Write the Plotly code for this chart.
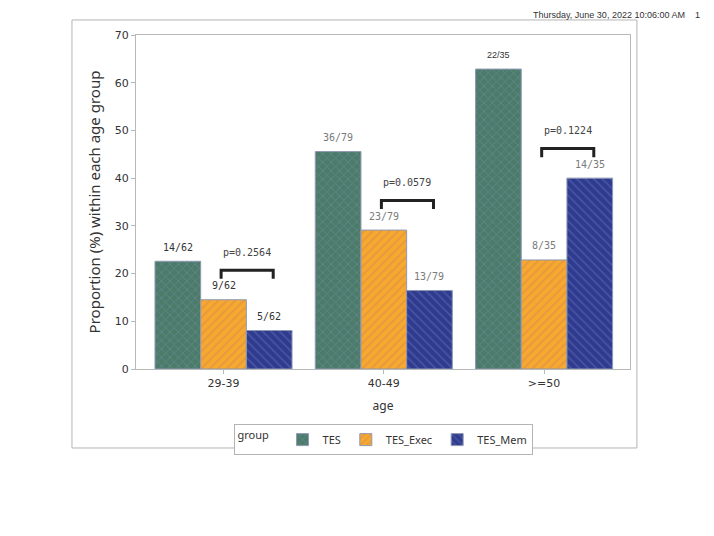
import plotly.graph_objects as go

# ---------------- data ----------------
ages = ["29-39", "40-49", ">=50"]
groups = ["TES", "TES_Exec", "TES_Mem"]
numerators = {
    "TES": [14, 36, 22],
    "TES_Exec": [9, 23, 8],
    "TES_Mem": [5, 13, 14],
}
denominators = [62, 79, 35]
p_values = ["0.2564", "0.0579", "0.1224"]
y_ticks = [0, 10, 20, 30, 40, 50, 60, 70]
header_text = "Thursday, June 30, 2022 10:06:00 AM    1"

# ---------------- styles ----------------
fills = {"TES": "#4b7b69", "TES_Exec": "#f8a82e", "TES_Mem": "#2f3b8e"}
hatch_fg = {"TES": "#7f8fb0", "TES_Exec": "#c98a55", "TES_Mem": "#6170b3"}
hatch_shape = {"TES": "x", "TES_Exec": "/", "TES_Mem": "\\"}
label_colors = {
    "TES": ["#333333", "#7a7a7a", "#333333"],
    "TES_Exec": ["#333333", "#7a7a7a", "#7a7a7a"],
    "TES_Mem": ["#333333", "#7a7a7a", "#7a7a7a"],
}
bar_offsets = {"TES": -0.285, "TES_Exec": 0.0, "TES_Mem": 0.285}

fig = go.Figure()
for g in groups:
    vals = [100.0 * n / d for n, d in zip(numerators[g], denominators)]
    fig.add_trace(go.Bar(
        name=g, x=ages, y=vals,
        marker=dict(
            color=fills[g],
            line=dict(color="#8e99b2", width=1),
            pattern=dict(shape=hatch_shape[g], fgcolor=hatch_fg[g],
                         size=6, solidity=0.28, fillmode="overlay"),
        ),
        hoverinfo="skip",
    ))

annotations = []
shapes = []
# value labels
for g in groups:
    for i, (n, d) in enumerate(zip(numerators[g], denominators)):
        v = 100.0 * n / d
        is_sans = (g == "TES" and i == 2)
        annotations.append(dict(
            x=i + bar_offsets[g], y=v, xref="x", yref="y",
            text=f"{n}/{d}", showarrow=False, yshift=14,
            font=dict(family="Liberation Sans" if is_sans else "DejaVu Sans Mono",
                      size=9 if is_sans else 10, color=label_colors[g][i]),
        ))

# p-value brackets
for i, p in enumerate(p_values):
    top = max(100.0 * numerators["TES_Exec"][i] / denominators[i],
              100.0 * numerators["TES_Mem"][i] / denominators[i])
    yb = top + 6.2
    x0 = i - 0.015
    x1 = i + 0.31
    shapes.append(dict(type="path", xref="x", yref="y",
                       path=f"M {x0},{yb-1.8} L {x0},{yb} L {x1},{yb} L {x1},{yb-1.8}",
                       line=dict(color="#222222", width=3)))
    annotations.append(dict(
        x=(x0 + x1) / 2, y=yb, xref="x", yref="y", text=f"p={p}",
        showarrow=False, yshift=18,
        font=dict(family="DejaVu Sans Mono", size=10, color="#444444"),
    ))

# header (top-right of page)
annotations.append(dict(
    x=1.146, y=1.081, xref="paper", yref="paper", xanchor="right", yanchor="top",
    text=header_text, showarrow=False,
    font=dict(family="Liberation Sans", size=9, color="#333333"),
))

# outer frame
shapes.append(dict(type="rect", xref="paper", yref="paper",
                   x0=-0.1296, x1=1.014, y0=-0.2365, y1=1.045,
                   line=dict(color="#b4b4b4", width=1)))

fig.update_layout(
    width=714, height=536,
    margin=dict(l=128, r=92, t=27, b=175),
    paper_bgcolor="white", plot_bgcolor="white",
    barmode="group", bargap=0.145, bargroupgap=0,
    font=dict(family="Noto Sans", size=11, color="#333333"),
    showlegend=True,
    legend=dict(
        orientation="h", x=0.502, xanchor="center", y=-0.165, yanchor="top",
        title=dict(text="group  ", font=dict(size=11, color="#333333")),
        bordercolor="#b4b4b4", borderwidth=1, bgcolor="white",
        font=dict(size=11, color="#333333"), itemwidth=30,
    ),
    annotations=annotations,
    shapes=shapes,
)
fig.update_xaxes(
    range=[-0.546, 2.536],
    title=dict(text="age", font=dict(size=12, color="#333333"), standoff=12),
    showline=True, linecolor="#b8b8b8", linewidth=1, mirror=True,
    ticks="outside", ticklen=4, tickcolor="#b8b8b8",
    tickfont=dict(family="DejaVu Sans", size=11, color="#333333"), showgrid=False,
)
fig.update_yaxes(
    range=[0, 70], tickvals=y_ticks,
    title=dict(text="Proportion (%) within each age group",
               font=dict(size=15, color="#333333"), standoff=10),
    showline=True, linecolor="#b8b8b8", linewidth=1, mirror=True,
    ticks="outside", ticklen=4, tickcolor="#b8b8b8",
    tickfont=dict(family="DejaVu Sans", size=11, color="#333333"),
    showgrid=False, zeroline=False,
)
fig.write_html("out.html")
